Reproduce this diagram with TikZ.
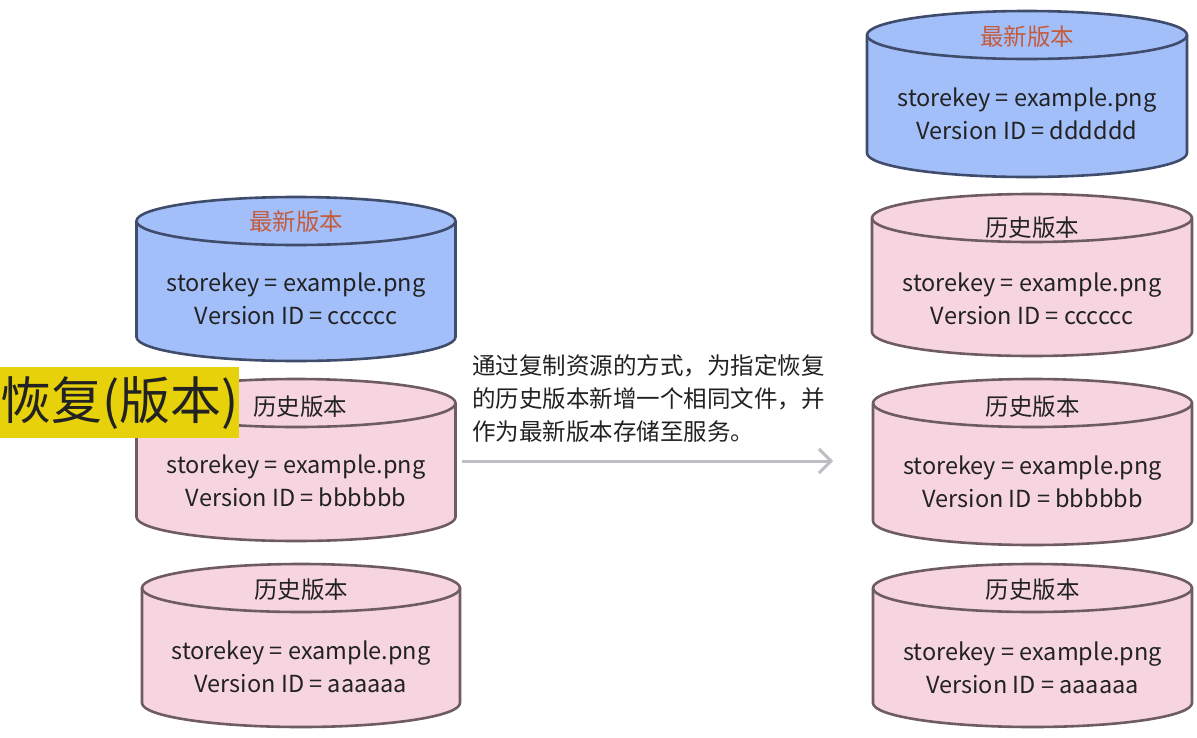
\documentclass[tikz,border=0pt]{standalone}
\usepackage{fontspec}
\setmainfont{Noto Sans CJK SC}
\usetikzlibrary{arrows.meta}
\definecolor{blueFill}{HTML}{A3BFFA}
\definecolor{blueLine}{HTML}{3F4C6B}
\definecolor{pinkFill}{HTML}{F6D5E0}
\definecolor{pinkLine}{HTML}{6E5B63}
\definecolor{titleRed}{HTML}{C45C3C}
\definecolor{txtDark}{HTML}{222222}
\definecolor{hlYellow}{HTML}{E6D10A}
\definecolor{arrGray}{HTML}{BCBEC3}
% cx, ytop, ybot, rx, fill, line
\newcommand\dbcyl[6]{%
  \path[fill=#5,draw=#6,line width=2.6pt,line join=round]
    ({#1-#4},{-#2}) -- ({#1-#4},{-#3})
    arc[start angle=180,end angle=360,x radius=#4,y radius=24]
    -- ({#1+#4},{-#2})
    arc[start angle=0,end angle=180,x radius=#4,y radius=24] -- cycle;
  \draw[#6,line width=2.6pt] ({#1-#4},{-#2})
    arc[start angle=180,end angle=360,x radius=#4,y radius=24];
}
\begin{document}
\begin{tikzpicture}[x=1pt,y=1pt,
  ttl/.style={inner sep=0pt,font=\fontsize{23.5}{28}\selectfont},
  latest/.style={ttl,text=titleRed},
  hist/.style={ttl,text=txtDark},
  body/.style={inner sep=0pt,align=center,text=txtDark,font=\fontsize{23.5}{33}\selectfont},
  note/.style={inner sep=0pt,align=left,text=txtDark,font=\fontsize{23.5}{33}\selectfont},
  tag/.style={fill=hlYellow,inner sep=0pt,minimum width=237pt,minimum height=71pt,text=txtDark,font=\fontsize{51}{56}\selectfont},
  flow/.style={draw=arrGray,line width=3pt,-{Straight Barb[length=12pt,width=24pt,line width=3pt]}}
]
\useasboundingbox (0,0) rectangle (1197,-737);

% left column
\dbcyl{296}{221}{337}{159.5}{blueFill}{blueLine}
\node[latest] (l1t) at (296,-222) {最新版本};
\node[body] (l1b) at (296,-298.5) {storekey = example.png\\Version ID = cccccc};

\dbcyl{296}{403}{517}{159.5}{pinkFill}{pinkLine}
\node[hist] (l2t) at (300,-407) {历史版本};
\node[body] (l2b) at (296,-481) {storekey = example.png\\Version ID = bbbbbb};

\dbcyl{301}{588}{703}{159}{pinkFill}{pinkLine}
\node[hist] (l3t) at (301,-590) {历史版本};
\node[body] (l3b) at (301,-667) {storekey = example.png\\Version ID = aaaaaa};

% right column
\dbcyl{1027}{35}{153}{160}{blueFill}{blueLine}
\node[latest] (r1t) at (1027,-37) {最新版本};
\node[body] (r1b) at (1027,-113.5) {storekey = example.png\\Version ID = dddddd};

\dbcyl{1032}{218}{332}{160}{pinkFill}{pinkLine}
\node[hist] (r2t) at (1032,-228) {历史版本};
\node[body] (r2b) at (1032,-298.5) {storekey = example.png\\Version ID = cccccc};

\dbcyl{1032.5}{403}{521}{159.5}{pinkFill}{pinkLine}
\node[hist] (r3t) at (1032.5,-407) {历史版本};
\node[body] (r3b) at (1032.5,-481.5) {storekey = example.png\\Version ID = bbbbbb};

\dbcyl{1032.5}{588}{703}{159.5}{pinkFill}{pinkLine}
\node[hist] (r4t) at (1032.5,-590) {历史版本};
\node[body] (r4b) at (1032.5,-667.5) {storekey = example.png\\Version ID = aaaaaa};

% highlight tag
\node[tag,anchor=north west] (tag) at (0,-367) {恢复(版本)};

% note and arrow
\node[note,anchor=west] (note) at (472,-399) {通过复制资源的方式，为指定恢复\\的历史版本新增一个相同文件，并\\作为最新版本存储至服务。};
\coordinate (a0) at (462,-461);
\coordinate (a1) at (833,-461);
\draw[flow] (a0) -- (a1);
\end{tikzpicture}
\end{document}
